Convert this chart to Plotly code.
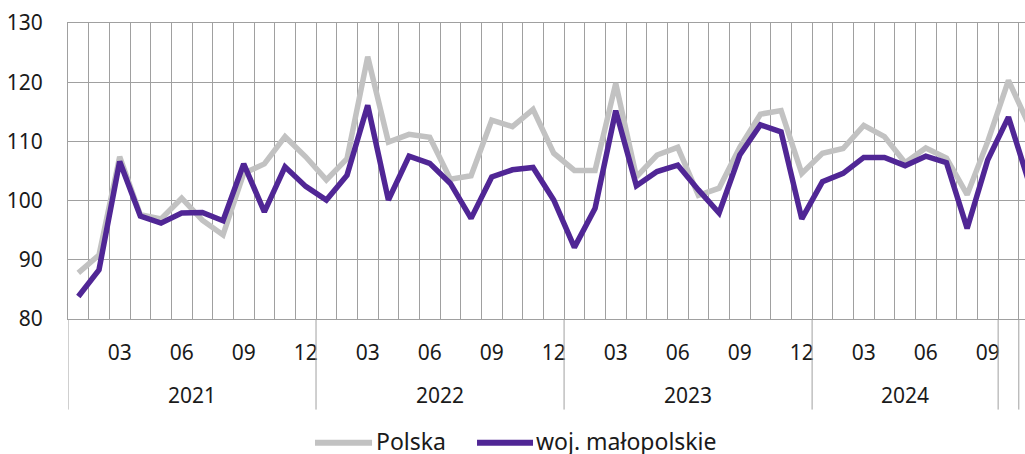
import plotly.graph_objects as go

# ---- data ----
months = (
    [f"2021-{m:02d}" for m in range(1, 13)]
    + [f"2022-{m:02d}" for m in range(1, 13)]
    + [f"2023-{m:02d}" for m in range(1, 13)]
    + [f"2024-{m:02d}" for m in range(1, 12)]
)
polska = [87.8, 90.8, 107.4, 97.6, 96.9, 100.4, 96.7, 94.2, 104.6, 106.2, 110.8, 107.4,
          103.5, 107.1, 124.3, 109.9, 111.2, 110.7, 103.6, 104.2, 113.6, 112.5, 115.4, 108.0,
          105.1, 105.1, 119.8, 104.0, 107.7, 109.0, 100.9, 102.1, 109.0, 114.6, 115.2, 104.6,
          108.0, 108.8, 112.7, 110.8, 106.4, 108.9, 107.2, 101.0, 110.0, 120.3, 112.7]
malopolskie = [83.8, 88.3, 106.6, 97.4, 96.2, 97.9, 98.0, 96.6, 106.2, 98.1, 105.7, 102.4,
               100.1, 104.3, 116.1, 100.1, 107.5, 106.3, 102.9, 97.0, 104.0, 105.2, 105.6, 100.1,
               92.1, 98.7, 115.2, 102.5, 104.9, 106.0, 101.8, 97.9, 107.7, 112.8, 111.6, 96.9,
               103.2, 104.6, 107.3, 107.3, 105.9, 107.5, 106.4, 95.3, 106.9, 114.1, 103.0]
year_groups = [("2021", 12), ("2022", 12), ("2023", 12), ("2024", 9), ("", 1), ("", 1)]
label_months = ["03", "06", "09", "12"]
series_names = ["Polska", "woj. małopolskie"]

GRAY = "#c2c2c2"
PURPLE = "#502695"
GRID = "#a0a0a0"
TEXT = "#1a1a1a"
FONT = "Noto Sans"

x = list(range(len(months)))

fig = go.Figure()
fig.add_trace(go.Scatter(x=x, y=polska, mode="lines", name=series_names[0],
                         line=dict(color=GRAY, width=5.5), showlegend=False))
fig.add_trace(go.Scatter(x=x, y=malopolskie, mode="lines", name=series_names[1],
                         line=dict(color=PURPLE, width=5.5), showlegend=False))

tickvals = [i for i, m in enumerate(months) if m[5:] in label_months]
ticktext = [months[i][5:] for i in tickvals]

fig.update_xaxes(
    range=[-0.5, 45.8], automargin=False,
    tickmode="array", tickvals=tickvals, ticktext=ticktext,
    showgrid=False, ticks="", ticklabelstandoff=15,
    minor=dict(tickmode="linear", tick0=-0.5, dtick=1, showgrid=True,
               gridcolor=GRID, gridwidth=1, ticks=""),
    showline=True, linecolor=GRID, linewidth=1, mirror=True,
    zeroline=False,
    tickfont=dict(family=FONT, size=21, color=TEXT),
)
fig.update_yaxes(
    range=[80, 130], automargin=False, tickmode="linear", tick0=80, dtick=10,
    showgrid=True, gridcolor=GRID, gridwidth=1,
    showline=True, linecolor=GRID, linewidth=1,
    zeroline=False, ticks="", ticklabelstandoff=20,
    tickfont=dict(family=FONT, size=21, color=TEXT),
)

# year dividers and labels
shapes = []
annotations = []
pos = -0.5
bounds = [pos]
for name, n in year_groups:
    start = pos
    pos += n
    bounds.append(pos)
    if name:
        annotations.append(dict(x=(start + pos) / 2, y=-0.258, xref="x", yref="paper",
                                text=name, showarrow=False, yanchor="middle",
                                font=dict(family=FONT, size=21, color=TEXT)))
for b in bounds:
    shapes.append(dict(type="line", xref="x", yref="paper", x0=b, x1=b, y0=0, y1=-0.306,
                       line=dict(color=GRID, width=1)))

# legend (manual)
leg_y = -0.418
leg = [(0.2581, 0.3177, 0.3198, GRAY, series_names[0]),
       (0.4274, 0.4859, 0.4870, PURPLE, series_names[1])]
for x0, x1, xt, col, name in leg:
    shapes.append(dict(type="line", xref="paper", yref="paper", x0=x0, x1=x1,
                       y0=leg_y, y1=leg_y, line=dict(color=col, width=6)))
    annotations.append(dict(x=xt, y=-0.413, xref="paper", yref="paper", text=name,
                            showarrow=False, xanchor="left", yanchor="middle",
                            font=dict(family=FONT, size=23, color=TEXT)))

fig.update_layout(
    width=1025, height=454,
    margin=dict(l=68, r=0, t=23, b=135, autoexpand=False),
    plot_bgcolor="white", paper_bgcolor="white",
    shapes=shapes, annotations=annotations,
    font=dict(family=FONT),
)

fig.write_html(
    "out.html",
    config={"displayModeBar": False},
    post_script="document.body.style.margin='0';document.body.style.overflow='hidden';",
)
